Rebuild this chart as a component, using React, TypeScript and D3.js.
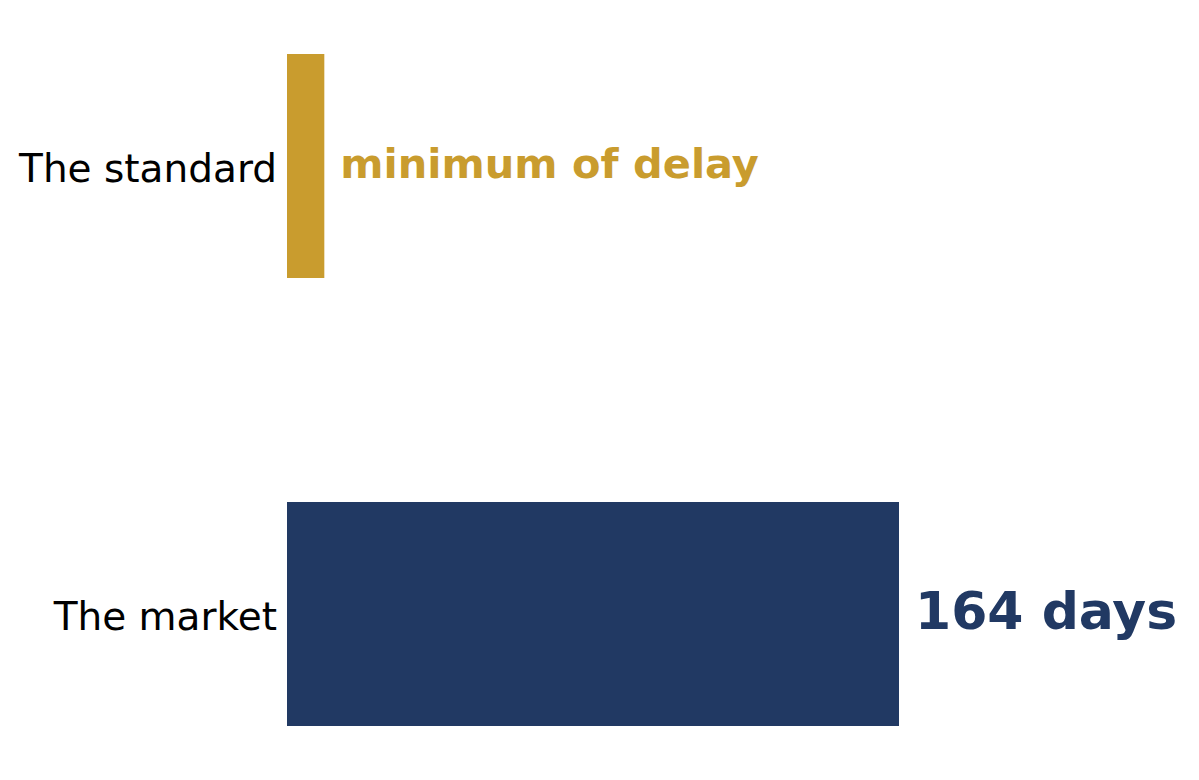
import * as d3 from "d3";

// Data
const categories = ["The standard", "The market"];
const values = [10, 164];
const valueLabels = ["minimum of delay", "164 days"];
const barColors = ["#C99C2E", "#213963"];
const labelSizes = [41.5, 52];

export default function App() {
  const width = 1199;
  const height = 780;
  const left = 287;

  const x = d3.scaleLinear().domain([0, 164]).range([left, 899]);
  const y = d3
    .scaleBand<string>()
    .domain(categories)
    .range([54, 726])
    .paddingInner(0.5)
    .paddingOuter(0);

  return (
    <svg
      width={width}
      height={height}
      style={{ position: "absolute", left: 0, top: 0, background: "#fff" }}
      fontFamily="'DejaVu Sans', sans-serif"
    >
      {categories.map((c, i) => {
        const yc = (y(c) ?? 0) + y.bandwidth() / 2;
        return (
          <g key={c}>
            <rect
              x={x(0)}
              y={y(c)}
              width={x(values[i]) - x(0)}
              height={y.bandwidth()}
              fill={barColors[i]}
            />
            {/* category label */}
            <text
              x={left - 10}
              y={yc}
              dy="0.4em"
              textAnchor="end"
              fontSize={39}
              fill="#000"
            >
              {c}
            </text>
            {/* value label */}
            <text
              x={x(values[i]) + 16}
              y={yc}
              dy="0.29em"
              fontSize={labelSizes[i]}
              fontWeight="bold"
              fill={barColors[i]}
            >
              {valueLabels[i]}
            </text>
          </g>
        );
      })}
    </svg>
  );
}
